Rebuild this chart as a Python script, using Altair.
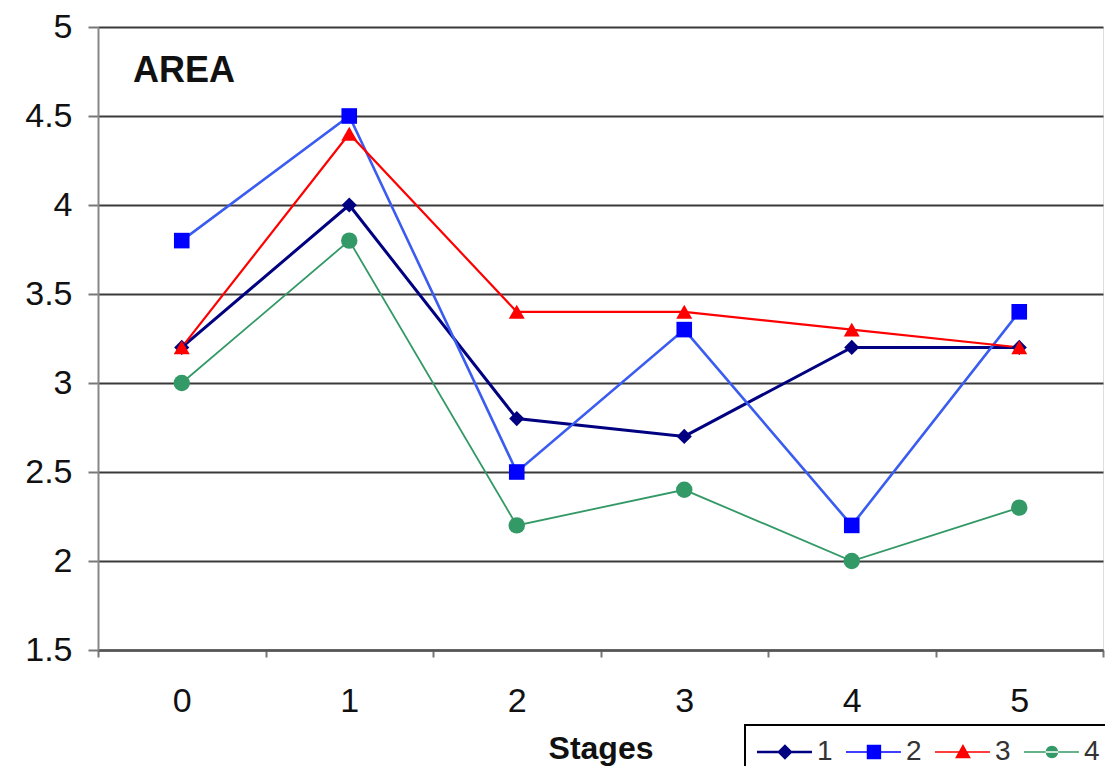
import altair as alt
import pandas as pd

stages = ["0", "1", "2", "3", "4", "5"]
series_names = ["1", "2", "3", "4"]
s1 = [3.2, 4.0, 2.8, 2.7, 3.2, 3.2]
s2 = [3.8, 4.5, 2.5, 3.3, 2.2, 3.4]
s3 = [3.2, 4.4, 3.4, 3.4, 3.3, 3.2]
s4 = [3.0, 3.8, 2.2, 2.4, 2.0, 2.3]
y_ticks = [1.5, 2, 2.5, 3, 3.5, 4, 4.5, 5]
chart_label = ["AREA"]

line_colors = ["#000080", "#3a5cf0", "#ff0000", "#339966"]
marker_colors = ["#000080", "#0000ff", "#ff0000", "#339966"]
line_widths = [3, 1.8, 2.3, 2.2]
marker_shapes = ["diamond", "square", "triangle-up", "circle"]
marker_sizes = [230, 270, 260, 170]
legend_paths = [
    "M-1.25,-0.1H3.33V0.1H-1.25ZM1.08,-0.64L1.72,0L1.08,0.64L0.44,0Z",
    "M-1.25,-0.06H3.33V0.06H-1.25ZM0.48,-0.6H1.68V0.6H0.48Z",
    "M-1.25,-0.07H3.33V0.07H-1.25ZM1.08,-0.66L1.74,0.52L0.42,0.52Z",
    "M-1.25,-0.07H3.33V0.07H-1.25ZM0.56,0A0.52,0.52,0,1,0,1.6,0A0.52,0.52,0,1,0,0.56,0Z",
]

rows = []
for name, vals in zip(series_names, [s1, s2, s3, s4]):
    for st, v in zip(stages, vals):
        rows.append({"stage": st, "value": v, "series": name})
df = pd.DataFrame(rows)

FONT = "Liberation Sans"

x_enc = alt.X(
    "stage:N",
    sort=stages,
    bandPosition=0.5,
    scale=alt.Scale(type="band", paddingInner=0, paddingOuter=0),
    axis=alt.Axis(
        title="Stages",
        labelAngle=0,
        labelFont=FONT,
        labelFontSize=34,
        labelColor="#111",
        labelPadding=27,
        tickBand="extent",
        tickSize=7,
        tickColor="#777",
        tickWidth=2,
        domainColor="#555",
        domainWidth=2.5,
        grid=False,
        titleFont=FONT,
        titleFontSize=32,
        titleFontWeight="bold",
        titleColor="#111",
        titlePadding=15,
    ),
)
y_enc = alt.Y(
    "value:Q",
    scale=alt.Scale(domain=[1.5, 5], nice=False, zero=False),
    axis=alt.Axis(
        title=None,
        values=y_ticks,
        format="~g",
        labelFont=FONT,
        labelFontSize=34,
        labelColor="#111",
        labelPadding=16,
        tickSize=10,
        tickColor="#777",
        tickWidth=2,
        domainColor="#888",
        domainWidth=2,
        grid=True,
        gridColor="#3a3a3a",
        gridWidth=1.8,
    ),
)

base = alt.Chart(df)

lines = base.mark_line().encode(
    x=x_enc,
    y=y_enc,
    stroke=alt.Stroke("series:N", scale=alt.Scale(domain=series_names, range=line_colors), legend=None),
    strokeWidth=alt.StrokeWidth("series:N", scale=alt.Scale(domain=series_names, range=line_widths), legend=None),
)

points = base.mark_point(filled=True, opacity=1).encode(
    x=x_enc,
    y=y_enc,
    color=alt.Color("series:N", scale=alt.Scale(domain=series_names, range=marker_colors), legend=None),
    shape=alt.Shape("series:N", scale=alt.Scale(domain=series_names, range=marker_shapes), legend=None),
    size=alt.Size("series:N", scale=alt.Scale(domain=series_names, range=marker_sizes), legend=None),
)

legend_props = dict(
    title=None,
    orient="none",
    direction="horizontal",
    legendX=647,
    legendY=698,
    padding=13,
    strokeColor="#000",
    fillColor="#fff",
    symbolSize=576,
    symbolStrokeWidth=0,
    symbolOpacity=1,
    labelFont=FONT,
    labelFontSize=28,
    labelColor="#333",
    labelOffset=31,
    columnPadding=13,
)

legend_layer = base.mark_point(filled=True, opacity=0).encode(
    x=x_enc,
    y=y_enc,
    fill=alt.Fill(
        "series:N",
        scale=alt.Scale(domain=series_names, range=marker_colors),
        legend=alt.Legend(**legend_props),
    ),
    shape=alt.Shape(
        "series:N",
        scale=alt.Scale(domain=series_names, range=legend_paths),
        legend=alt.Legend(**legend_props),
    ),
)

label_layer = alt.Chart(pd.DataFrame({"label": chart_label})).mark_text(
    align="left",
    baseline="alphabetic",
    font=FONT,
    fontSize=36,
    fontWeight="bold",
    color="#111",
).encode(
    x=alt.value(35),
    y=alt.value(55),
    text="label:N",
)

chart = (
    alt.layer(lines, points, legend_layer, label_layer)
    .resolve_scale(shape="independent", fill="independent")
    .properties(
        width=1005,
        height=623,
        autosize=alt.AutoSizeParams(type="none"),
        padding={"left": 90, "top": 19, "right": 2, "bottom": 116},
    )
    .configure_view(stroke=None)
    .configure(background="white")
    .configure_legend(strokeWidth=2)
)

chart.save("out.html", embed_options={"renderer": "svg", "actions": False})
